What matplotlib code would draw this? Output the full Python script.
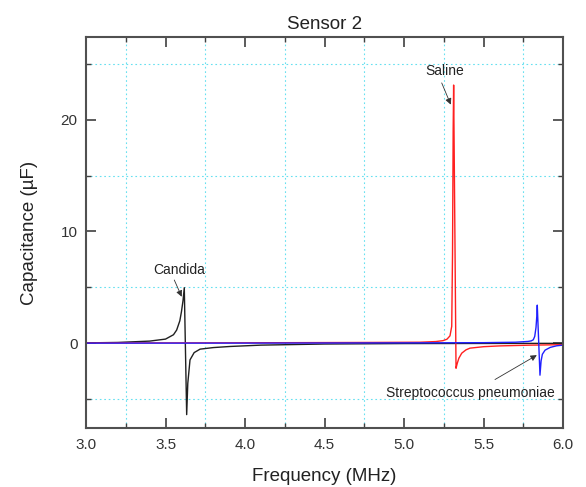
"""
Sensor 2 capacitance vs frequency: resonance signatures of three samples.
"""

import matplotlib
matplotlib.use("Agg")
import matplotlib.pyplot as plt
from matplotlib.ticker import MultipleLocator, FormatStrFormatter

plt.rcParams["font.family"] = ["Liberation Sans", "DejaVu Sans"]

# ---- Data ----
candida_f = [3.0, 3.2, 3.4, 3.5, 3.55, 3.57, 3.59, 3.60, 3.61, 3.618,
             3.633, 3.640, 3.654, 3.68, 3.717, 3.8, 3.906, 4.1, 4.5, 5.0, 6.0]
candida_c = [0.02, 0.06, 0.18, 0.36, 0.75, 1.17, 2.0, 2.8, 3.8, 4.96,
             -6.4, -3.6, -1.5, -0.85, -0.54, -0.4, -0.3, -0.18, -0.08, -0.04, -0.02]

saline_f = [3.0, 4.0, 4.8, 5.1, 5.2, 5.245, 5.27, 5.289, 5.30, 5.305, 5.309, 5.312,
            5.327, 5.335, 5.345, 5.363, 5.39, 5.415, 5.5, 5.6, 5.8, 6.0]
saline_c = [0.01, 0.03, 0.06, 0.08, 0.14, 0.22, 0.35, 0.65, 1.5, 8.0, 19.0, 23.1,
            -2.25, -1.8, -1.35, -0.9, -0.6, -0.45, -0.32, -0.25, -0.18, -0.14]

strep_f = [3.0, 4.0, 5.0, 5.5, 5.7, 5.78, 5.80, 5.813, 5.822, 5.830, 5.835, 5.838,
           5.855, 5.862, 5.87, 5.887, 5.92, 5.96, 6.0]
strep_c = [0.0, 0.0, 0.02, 0.04, 0.08, 0.15, 0.2, 0.3, 0.6, 1.4, 2.4, 3.4,
           -2.87, -1.6, -1.0, -0.63, -0.38, -0.24, -0.18]

fig = plt.figure(figsize=(5.86, 4.87), dpi=100)
ax = fig.add_axes([0.1468, 0.1211, 0.8140, 0.8029])

ax.plot(candida_f, candida_c, color="#202020", lw=1.0)
ax.plot(saline_f, saline_c, color="#ff2020", lw=1.0)
ax.plot(strep_f, strep_c, color="#2020ff", lw=1.0)

ax.set_xlim(3.0, 6.0)
ax.set_ylim(-7.6, 27.4)

ax.xaxis.set_major_locator(MultipleLocator(0.5))
ax.xaxis.set_minor_locator(MultipleLocator(0.25))
ax.xaxis.set_major_formatter(FormatStrFormatter("%.1f"))
ax.yaxis.set_major_locator(MultipleLocator(10))
ax.yaxis.set_minor_locator(MultipleLocator(5))

ax.grid(which="minor", color="#66e0f0", ls=(0, (1.5, 2.5)), lw=0.8)
ax.grid(which="major", visible=False)

ax.tick_params(which="both", direction="in", top=True, right=True,
               color="#404040", labelsize=11, labelcolor="#333333")
ax.tick_params(which="major", length=7, width=1.2)
ax.tick_params(which="minor", length=3.5, width=1.0)
ax.tick_params(axis="x", pad=7)
ax.tick_params(axis="y", pad=6)
for s in ax.spines.values():
    s.set_color("#505050")
    s.set_linewidth(1.5)

ax.set_title("Sensor 2", fontsize=13.5, color="#222222", pad=6)
ax.set_xlabel("Frequency (MHz)", fontsize=13.5, color="#222222", labelpad=12)
ax.set_ylabel("Capacitance (\u00b5F)", fontsize=13.5, color="#222222", labelpad=16)

arrow = dict(arrowstyle="-|>", color="#333333", lw=0.6, mutation_scale=9, shrinkA=0, shrinkB=0)
ax.annotate("", xy=(3.602, 4.15), xytext=(3.555, 5.65), arrowprops=arrow)
ax.text(3.585, 6.55, "Candida", ha="center", va="center", fontsize=10, color="#222222")
ax.annotate("", xy=(5.294, 21.35), xytext=(5.237, 23.29), arrowprops=arrow)
ax.text(5.258, 24.33, "Saline", ha="center", va="center", fontsize=10, color="#222222")
ax.annotate("", xy=(5.835, -1.08), xytext=(5.572, -3.26), arrowprops=arrow)
ax.text(5.415, -4.48, "Streptococcus pneumoniae", ha="center", va="center",
        fontsize=10, color="#222222")

plt.savefig("out.png", dpi=100)
plt.close()
